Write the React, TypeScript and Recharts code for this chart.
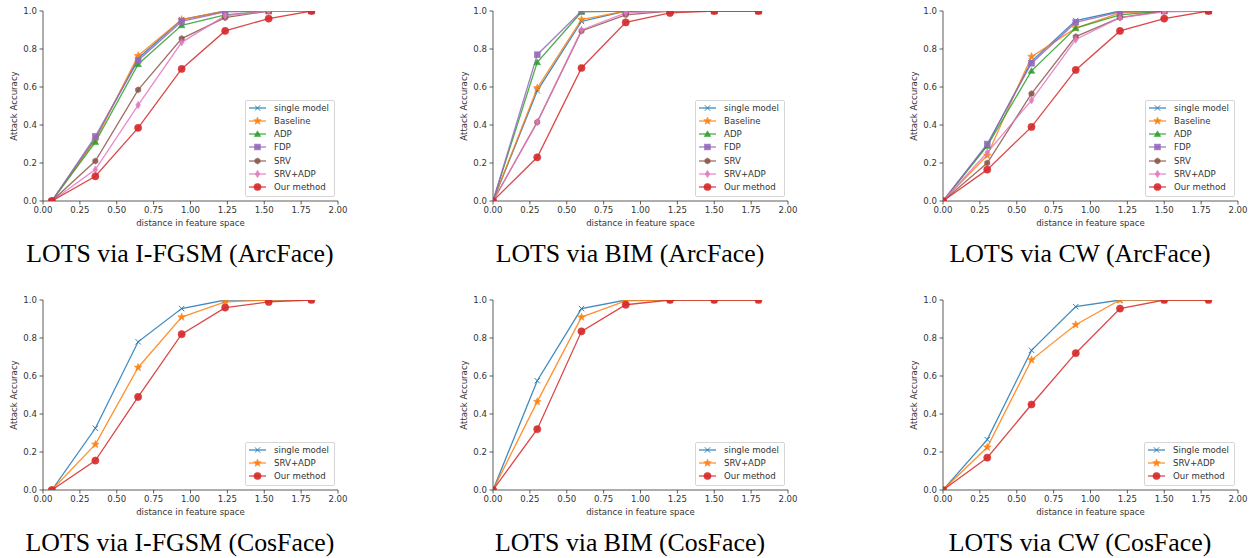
import { LineChart, Line, XAxis, YAxis } from 'recharts';

// x positions of the evaluated distances
const xIfgsm = [0.06, 0.355, 0.645, 0.94, 1.235, 1.53, 1.82];
const xStep = [0, 0.3, 0.6, 0.9, 1.2, 1.5, 1.8];

const xTicks = [0, 0.25, 0.5, 0.75, 1, 1.25, 1.5, 1.75, 2];
const yTicks = [0, 0.2, 0.4, 0.6, 0.8, 1];

// ArcFace, I-FGSM
const arcIfgsmSingle = [0, 0.33, 0.75, 0.955, 1.0, 1.0, 1.0];
const arcIfgsmBaseline = [0, 0.32, 0.765, 0.955, 1.0, 1.0, 1.0];
const arcIfgsmAdp = [0, 0.31, 0.72, 0.925, 0.98, 1.0, 1.0];
const arcIfgsmFdp = [0, 0.34, 0.74, 0.945, 0.995, 1.0, 1.0];
const arcIfgsmSrv = [0, 0.21, 0.585, 0.855, 0.965, 1.0, 1.0];
const arcIfgsmSrvAdp = [0, 0.165, 0.505, 0.835, 0.975, 1.0, 1.0];
const arcIfgsmOurs = [0, 0.13, 0.385, 0.695, 0.895, 0.96, 1.0];

// ArcFace, BIM
const arcBimSingle = [0, 0.58, 0.945, 1, 1, 1, 1];
const arcBimBaseline = [0, 0.595, 0.955, 1, 1, 1, 1];
const arcBimAdp = [0, 0.73, 0.995, 1, 1, 1, 1];
const arcBimFdp = [0, 0.77, 1, 1, 1, 1, 1];
const arcBimSrv = [0, 0.415, 0.895, 0.98, 1, 1, 1];
const arcBimSrvAdp = [0, 0.415, 0.9, 0.99, 1, 1, 1];
const arcBimOurs = [0, 0.23, 0.7, 0.94, 0.99, 1, 1];

// ArcFace, CW
const arcCwSingle = [0, 0.295, 0.735, 0.95, 1, 1, 1];
const arcCwBaseline = [0, 0.24, 0.76, 0.91, 0.99, 1, 1];
const arcCwAdp = [0, 0.29, 0.685, 0.91, 0.98, 1, 1];
const arcCwFdp = [0, 0.3, 0.725, 0.94, 0.995, 1, 1];
const arcCwSrv = [0, 0.2, 0.565, 0.865, 0.965, 1, 1];
const arcCwSrvAdp = [0, 0.255, 0.53, 0.85, 0.965, 0.995, 1];
const arcCwOurs = [0, 0.165, 0.39, 0.69, 0.895, 0.96, 1];

// CosFace
const cosIfgsmSingle = [0, 0.325, 0.78, 0.955, 1, 1, 1];
const cosIfgsmSrvAdp = [0, 0.24, 0.645, 0.91, 0.99, 1, 1];
const cosIfgsmOurs = [0, 0.155, 0.49, 0.82, 0.96, 0.99, 1];

const cosBimSingle = [0, 0.575, 0.955, 1, 1, 1, 1];
const cosBimSrvAdp = [0, 0.465, 0.91, 0.995, 1, 1, 1];
const cosBimOurs = [0, 0.32, 0.835, 0.975, 1, 1, 1];

const cosCwSingle = [0, 0.265, 0.735, 0.965, 1, 1, 1];
const cosCwSrvAdp = [0, 0.225, 0.685, 0.87, 1, 1, 1];
const cosCwOurs = [0, 0.17, 0.45, 0.72, 0.955, 1, 1];

const namesFull = ['single model', 'Baseline', 'ADP', 'FDP', 'SRV', 'SRV+ADP', 'Our method'];
const colorsFull = ['#1f77b4', '#ff7f0e', '#2ca02c', '#9467bd', '#8c564b', '#e377c2', '#d62728'];
const shapesFull = ['x', 'star', 'tri', 'square', 'hex', 'diamond', 'circle'];

const captions = [
  'LOTS via I-FGSM (ArcFace)', 'LOTS via BIM (ArcFace)', 'LOTS via CW (ArcFace)',
  'LOTS via I-FGSM (CosFace)', 'LOTS via BIM (CosFace)', 'LOTS via CW (CosFace)',
];

type Series = { name: string; color: string; shape: string; values: number[] };

const full = (vals: number[][]): Series[] =>
  vals.map((v, i) => ({ name: namesFull[i], color: colorsFull[i], shape: shapesFull[i], values: v }));

const three = (single: string, vals: number[][]): Series[] => [
  { name: single, color: '#1f77b4', shape: 'x', values: vals[0] },
  { name: 'SRV+ADP', color: '#ff7f0e', shape: 'star', values: vals[1] },
  { name: 'Our method', color: '#d62728', shape: 'circle', values: vals[2] },
];

const panels = [
  { xs: xIfgsm, series: full([arcIfgsmSingle, arcIfgsmBaseline, arcIfgsmAdp, arcIfgsmFdp, arcIfgsmSrv, arcIfgsmSrvAdp, arcIfgsmOurs]) },
  { xs: xStep, series: full([arcBimSingle, arcBimBaseline, arcBimAdp, arcBimFdp, arcBimSrv, arcBimSrvAdp, arcBimOurs]) },
  { xs: xStep, series: full([arcCwSingle, arcCwBaseline, arcCwAdp, arcCwFdp, arcCwSrv, arcCwSrvAdp, arcCwOurs]) },
  { xs: xIfgsm, series: three('single model', [cosIfgsmSingle, cosIfgsmSrvAdp, cosIfgsmOurs]) },
  { xs: xStep, series: three('single model', [cosBimSingle, cosBimSrvAdp, cosBimOurs]) },
  { xs: xStep, series: three('Single model', [cosCwSingle, cosCwSrvAdp, cosCwOurs]) },
];

const TICK_FONT = { fontSize: 8.6, fill: '#333', fontFamily: 'DejaVu Sans' };
const AXIS = '#333';

const poly = (cx: number, cy: number, n: number, r: number, rot: number, inner?: number) => {
  const pts: string[] = [];
  const count = inner ? n * 2 : n;
  for (let i = 0; i < count; i++) {
    const rr = inner && i % 2 === 1 ? inner : r;
    const a = rot + (i * 2 * Math.PI) / count;
    pts.push(`${cx + rr * Math.sin(a)},${cy - rr * Math.cos(a)}`);
  }
  return pts.join(' ');
};

function Marker({ shape, cx, cy, color }: { shape: string; cx: number; cy: number; color: string }) {
  const common = { fill: color, stroke: color, strokeWidth: 0.6, opacity: 0.9 };
  switch (shape) {
    case 'x': {
      const s = 2.7;
      return (
        <g stroke={color} strokeWidth={1} opacity={0.9}>
          <line x1={cx - s} y1={cy - s} x2={cx + s} y2={cy + s} />
          <line x1={cx - s} y1={cy + s} x2={cx + s} y2={cy - s} />
        </g>
      );
    }
    case 'star':
      return <polygon points={poly(cx, cy, 5, 4, 0, 1.7)} {...common} />;
    case 'tri':
      return <polygon points={poly(cx, cy + 0.6, 3, 3.8, 0)} {...common} />;
    case 'square':
      return <rect x={cx - 2.9} y={cy - 2.9} width={5.8} height={5.8} {...common} />;
    case 'hex':
      return <polygon points={poly(cx, cy, 6, 3, 0)} {...common} />;
    case 'diamond':
      return <polygon points={`${cx},${cy - 3.7} ${cx + 2.3},${cy} ${cx},${cy + 3.7} ${cx - 2.3},${cy}`} {...common} />;
    default:
      return <circle cx={cx} cy={cy} r={3.6} {...common} />;
  }
}

function LegendBox({ series }: { series: Series[] }) {
  return (
    <div
      style={{
        position: 'absolute',
        right: 20,
        bottom: 43,
        background: 'rgba(255,255,255,0.8)',
        border: '1px solid #d6d6d6',
        borderRadius: 2,
        padding: '0 5px 2px 3px',
        fontFamily: 'DejaVu Sans',
        fontSize: 8.6,
        color: '#333',
      }}
    >
      {series.map((s) => (
        <div key={s.name} style={{ display: 'flex', alignItems: 'center', height: 13.3 }}>
          <svg width={17} height={12} style={{ marginRight: 8, overflow: 'visible' }}>
            <line x1={0} y1={6} x2={17} y2={6} stroke={s.color} strokeWidth={1.3} strokeOpacity={0.85} />
            <Marker shape={s.shape} cx={8.5} cy={6} color={s.color} />
          </svg>
          <span style={{ whiteSpace: 'nowrap' }}>{s.name}</span>
        </div>
      ))}
    </div>
  );
}

function Panel({ xs, series, left, top }: { xs: number[]; series: Series[]; left: number; top: number }) {
  const data = xs.map((x, i) => {
    const row: Record<string, number> = { x };
    series.forEach((s, k) => {
      row[`s${k}`] = s.values[i];
    });
    return row;
  });
  return (
    <div style={{ position: 'absolute', left, top, width: 355, height: 240 }}>
      <LineChart width={355} height={240} data={data} margin={{ top: 11, right: 17, bottom: 0, left: 0 }}>
        <XAxis
          dataKey="x"
          type="number"
          domain={[0, 2]}
          ticks={xTicks}
          tickFormatter={(v: number) => v.toFixed(2)}
          interval={0}
          height={39}
          tick={TICK_FONT}
          tickSize={3.5}
          tickMargin={2}
          stroke={AXIS}
          strokeWidth={0.8}
          allowDataOverflow
          label={(p: any) => (
            <text
              x={p.viewBox.x + p.viewBox.width / 2}
              y={p.viewBox.y + 22}
              textAnchor="middle"
              dominantBaseline="central"
              {...TICK_FONT}
            >
              distance in feature space
            </text>
          )}
        />
        <XAxis xAxisId="top" orientation="top" type="number" domain={[0, 2]} height={0} tick={false} tickLine={false} stroke={AXIS} strokeWidth={0.8} />
        <YAxis
          type="number"
          domain={[0, 1]}
          ticks={yTicks}
          tickFormatter={(v: number) => v.toFixed(1)}
          interval={0}
          width={43}
          tick={TICK_FONT}
          tickSize={3.5}
          tickMargin={2.5}
          stroke={AXIS}
          strokeWidth={0.8}
          allowDataOverflow
          label={(p: any) => {
            const cy = p.viewBox.y + p.viewBox.height / 2;
            return (
              <text
                x={14}
                y={cy}
                transform={`rotate(-90, 14, ${cy})`}
                textAnchor="middle"
                dominantBaseline="central"
                {...TICK_FONT}
              >
                Attack Accuracy
              </text>
            );
          }}
        />
        <YAxis yAxisId="right" orientation="right" type="number" domain={[0, 1]} width={0} tick={false} tickLine={false} stroke={AXIS} strokeWidth={0.8} />
        {series.map((s, k) => (
          <Line
            key={s.name}
            dataKey={`s${k}`}
            stroke={s.color}
            strokeWidth={1.3}
            strokeOpacity={0.85}
            type="linear"
            isAnimationActive={false}
            activeDot={false}
            dot={(p: any) => <Marker key={`m${k}-${p.index}`} shape={s.shape} cx={p.cx} cy={p.cy} color={s.color} />}
          />
        ))}
      </LineChart>
      <LegendBox series={series} />
    </div>
  );
}

const colX = [0, 450, 900];
const rowY = [0, 289];

export default function App() {
  return (
    <div style={{ position: 'absolute', left: 0, top: 0, width: 1255, height: 558, background: '#fff', overflow: 'hidden' }}>
      {panels.map((p, i) => {
        const left = colX[i % 3];
        const top = rowY[Math.floor(i / 3)];
        return (
          <div key={i}>
            <Panel xs={p.xs} series={p.series} left={left} top={top} />
            <div
              style={{
                position: 'absolute',
                left: left + 180 - 200,
                width: 400,
                top: top + 241,
                textAlign: 'center',
                fontFamily: '"Liberation Serif", "Times New Roman", serif',
                fontSize: 25.8,
                lineHeight: '25.8px',
                color: '#000',
                whiteSpace: 'nowrap',
              }}
            >
              {captions[i]}
            </div>
          </div>
        );
      })}
    </div>
  );
}
